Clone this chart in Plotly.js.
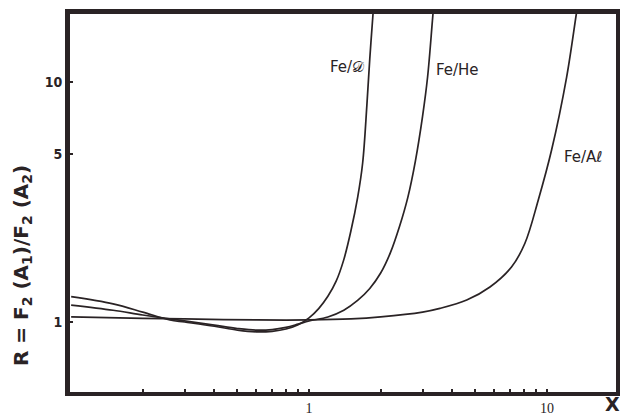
<!DOCTYPE html>
<html>
<head>
<meta charset="utf-8">
<script src="https://cdn.plot.ly/plotly-3.0.1.min.js"></script>
<style>
html,body{margin:0;padding:0;background:#fff;}
#wrap{position:relative;width:620px;height:415px;}
#chart{width:620px;height:415px;}
#frame{position:absolute;left:66.5px;top:10.5px;width:552px;height:384px;box-sizing:border-box;border:3px solid #2a2325;pointer-events:none;}
</style>
</head>
<body>
<div id="wrap"><div id="chart"></div><div id="frame"></div></div>
<script>
// Fe/D
const xD = [0.1, 0.15, 0.2, 0.26, 0.3, 0.4, 0.5, 0.6, 0.7, 0.8, 0.9, 1.0, 1.1, 1.2, 1.3, 1.4, 1.5, 1.6, 1.68, 1.75, 1.8, 1.86, 1.89];
const rD = [1.275, 1.19, 1.10, 1.02, 1.0, 0.96, 0.925, 0.91, 0.915, 0.935, 0.975, 1.04, 1.14, 1.28, 1.48, 1.82, 2.4, 3.3, 4.6, 8.0, 12.5, 19.6, 24];
// Fe/He
const xHe = [0.1, 0.15, 0.2, 0.28, 0.4, 0.5, 0.6, 0.7, 0.8, 0.9, 1.0, 1.2, 1.4, 1.6, 1.8, 2.0, 2.2, 2.4, 2.6, 2.8, 3.0, 3.15, 3.3, 3.38];
const rHe = [1.177, 1.12, 1.07, 1.02, 0.97, 0.94, 0.925, 0.93, 0.95, 0.98, 1.01, 1.05, 1.12, 1.23, 1.38, 1.6, 1.95, 2.5, 3.3, 4.7, 7.2, 10.5, 18, 24];
// Fe/Al
const xAl = [0.1, 0.2, 0.3, 0.6, 1.0, 1.5, 2.0, 3.0, 3.55, 4.6, 5.76, 7.11, 8.08, 9.19, 10.46, 12.1, 13.33, 13.6];
const rAl = [1.05, 1.035, 1.03, 1.02, 1.02, 1.03, 1.05, 1.10, 1.14, 1.235, 1.40, 1.70, 2.13, 3.22, 5.21, 10.5, 19.6, 22];

const seriesNames = ['Fe/𝒟', 'Fe/He', 'Fe/Aℓ'];
const xTickVals = [0.2, 0.3, 0.4, 0.5, 0.6, 0.7, 0.8, 0.9, 1, 2, 3, 4, 5, 6, 7, 8, 9, 10];
const xTickText = ['', '', '', '', '', '', '', '', '1', '', '', '', '', '', '', '', '', '10'];
const yTickVals = [1, 5, 10];
const yTickText = ['1', '5', '10'];

const ink = '#2a2325';
const lineStyle = {color: ink, width: 1.7, shape: 'spline', smoothing: 1};

const traces = [
  {x: xD, y: rD, mode: 'lines', line: lineStyle, name: seriesNames[0]},
  {x: xHe, y: rHe, mode: 'lines', line: lineStyle, name: seriesNames[1]},
  {x: xAl, y: rAl, mode: 'lines', line: lineStyle, name: seriesNames[2]}
];

const layout = {
  width: 620, height: 415,
  margin: {l: 68, r: 3, t: 12, b: 22},
  paper_bgcolor: '#ffffff',
  plot_bgcolor: '#ffffff',
  showlegend: false,
  xaxis: {
    type: 'log', range: [Math.log10(0.097), Math.log10(19.7)],
    showline: true, linecolor: ink, linewidth: 3, mirror: true,
    showgrid: false, zeroline: false,
    ticks: 'inside', ticklen: 4, tickwidth: 1.5, tickcolor: ink,
    tickvals: xTickVals, ticktext: xTickText,
    tickfont: {family: 'Liberation Serif, serif', size: 14, color: ink}
  },
  yaxis: {
    type: 'log', range: [Math.log10(0.506), Math.log10(19.6)],
    showline: true, linecolor: ink, linewidth: 3, mirror: true,
    showgrid: false, zeroline: false,
    ticks: 'inside', ticklen: 5, tickwidth: 1.5, tickcolor: ink,
    tickvals: yTickVals, ticktext: yTickText,
    tickfont: {family: 'DejaVu Sans Condensed, DejaVu Sans, sans-serif', size: 14, color: ink, weight: 'bold'}
  }
};

const handFont = {family: 'DejaVu Sans, sans-serif', size: 15, color: ink};
const plotW = 620 - 68 - 3, plotH = 415 - 12 - 22;
layout.annotations = [
  {x: 0.16, y: 1.0625, xref: 'x', yref: 'y', text: seriesNames[0], showarrow: false, font: handFont},
  {x: 0.622, y: 1.05, xref: 'x', yref: 'y', text: seriesNames[1], showarrow: false, font: handFont},
  {x: 1.155, y: 0.6875, xref: 'x', yref: 'y', text: seriesNames[2], showarrow: false, font: handFont},
  {x: (612 - 68) / plotW, y: (393 - 404) / plotH, xref: 'paper', yref: 'paper', xanchor: 'center', yanchor: 'middle',
   text: '<b>X</b>', showarrow: false, font: {family: 'DejaVu Sans, sans-serif', size: 19, color: ink}},
  {x: (22 - 68) / plotW, y: (393 - 266) / plotH, xref: 'paper', yref: 'paper', xanchor: 'center', yanchor: 'middle',
   text: '<b>R = F<sub>2</sub> (A<sub>1</sub>)/F<sub>2</sub> (A<sub>2</sub>)</b>',
   textangle: -90, showarrow: false, font: {family: 'DejaVu Sans, sans-serif', size: 20, color: ink}}
];

Plotly.newPlot('chart', traces, layout, {displayModeBar: false});
</script>
</body>
</html>
